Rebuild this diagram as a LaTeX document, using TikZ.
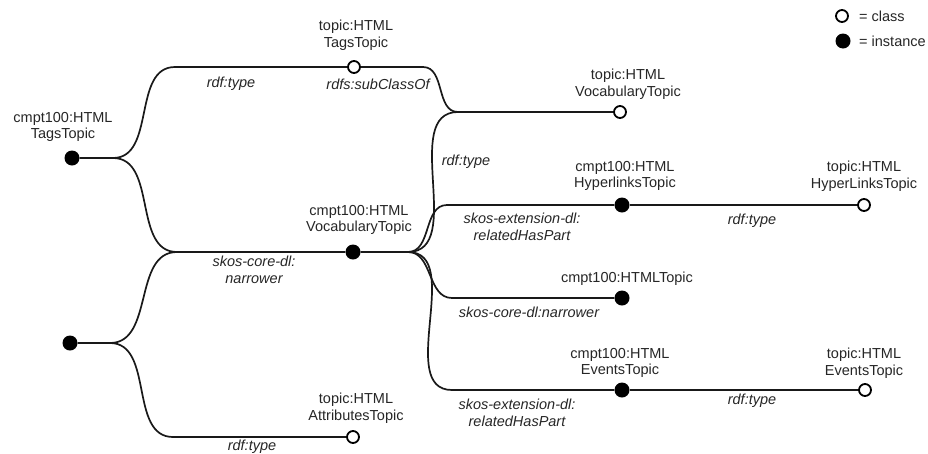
\documentclass[tikz,border=0pt]{standalone}
\usepackage{fontspec}
\setmainfont{Liberation Sans}
\newcommand\dgfont{\fontsize{14.5}{16.5}\selectfont}
\begin{document}
\begin{tikzpicture}[x=1pt,y=-1pt,
  inst/.style={circle,fill=black,inner sep=0pt,minimum size=15pt},
  cls/.style={circle,draw=black,fill=white,line width=1.8pt,inner sep=0pt,minimum size=12pt},
  lbl/.style={align=center,font=\dgfont,inner sep=0pt,text=black!85},
  elbl/.style={align=center,font=\dgfont\itshape,inner sep=0pt,text=black!85},
  conn/.style={draw=black!90,line width=1.7pt},
  scurve/.style={out=0,in=180}]
\useasboundingbox (0,0) rectangle (928,453);
% nodes
\node[inst] (A) at (72,158) {};
\node[cls]  (B) at (354,67) {};
\node[cls]  (C) at (620,112) {};
\node[inst] (D) at (353,252) {};
\node[inst] (E) at (70,343) {};
\node[cls]  (F) at (353,437) {};
\node[inst] (G) at (622,205) {};
\node[cls]  (H) at (864,205) {};
\node[inst] (I) at (622,298) {};
\node[inst] (J) at (622,390) {};
\node[cls]  (K) at (865,390) {};
% node labels
\node[lbl] (Al) at (63,127) {cmpt100:HTML\\TagsTopic};
\node[lbl] (Bl) at (356,35) {topic:HTML\\TagsTopic};
\node[lbl] (Cl) at (628,84) {topic:HTML\\VocabularyTopic};
\node[lbl] (Dl) at (359,220) {cmpt100:HTML\\VocabularyTopic};
\node[lbl] (Gl) at (625,176) {cmpt100:HTML\\HyperlinksTopic};
\node[lbl] (Hl) at (864,176) {topic:HTML\\HyperLinksTopic};
\node[lbl] (Il) at (627,279) {cmpt100:HTMLTopic};
\node[lbl] (Jl) at (620,363) {cmpt100:HTML\\EventsTopic};
\node[lbl] (Kl) at (864,363) {topic:HTML\\EventsTopic};
\node[lbl] (Fl) at (356,408) {topic:HTML\\AttributesTopic};
% junctions
\coordinate (a0) at (113,158);
\coordinate (a1) at (175,67);
\coordinate (a2) at (177,252);
\coordinate (b1) at (423,67);
\coordinate (c0) at (458,112);
\coordinate (e0) at (110,343);
\coordinate (f0) at (173,437);
\coordinate (d0) at (408,252);
\coordinate (g0) at (447,205);
\coordinate (i0) at (452,298);
\coordinate (j0) at (452,390);
% connectors
\draw[conn] (A) -- (a0) to[scurve] (a1) -- (B);
\draw[conn] (B) -- (b1) to[scurve] (c0) -- (C);
\draw[conn] (a0) to[scurve] (a2) -- (D);
\draw[conn] (E) -- (e0) to[scurve] (a2);
\draw[conn] (e0) to[scurve] (f0) -- (F);
\draw[conn] (D) -- (d0) to[scurve] (c0);
\draw[conn] (d0) to[scurve] (g0) -- (G);
\draw[conn] (G) -- (H);
\draw[conn] (d0) to[scurve] (i0) -- (I);
\draw[conn] (d0) to[scurve] (j0) -- (J);
\draw[conn] (J) -- (K);
% edge labels
\node[elbl] (e1) at (231,84) {rdf:type};
\node[elbl] (e2) at (378,84) {rdfs:subClassOf};
\node[elbl] (e3) at (466,162) {rdf:type};
\node[elbl] (e4) at (522,227) {skos-extension-dl:\\relatedHasPart};
\node[elbl] (e5) at (752,221) {rdf:type};
\node[elbl] (e6) at (254,270) {skos-core-dl:\\narrower};
\node[elbl] (e7) at (529,312) {skos-core-dl:narrower};
\node[elbl] (e8) at (517,413) {skos-extension-dl:\\relatedHasPart};
\node[elbl] (e9) at (752,401) {rdf:type};
\node[elbl] (e10) at (252,447) {rdf:type};
% legend
\node[cls]  (lc) at (842,16) {};
\node[inst] (li) at (843,41) {};
\node[lbl,anchor=west] (lct) at (859,16) {= class};
\node[lbl,anchor=west] (lit) at (859,41) {= instance};
\end{tikzpicture}
\end{document}
